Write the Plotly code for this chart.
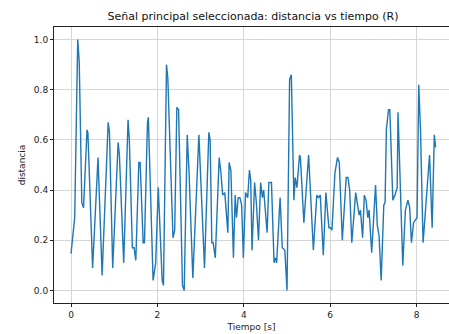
import plotly.graph_objects as go

tiempo = [0.00, 0.085, 0.155, 0.19, 0.25, 0.29, 0.37, 0.39, 0.50, 0.625, 0.72, 0.86, 0.89, 0.965,
          1.09, 1.12, 1.22, 1.32, 1.35, 1.42, 1.46, 1.50, 1.57, 1.60, 1.67, 1.70, 1.77, 1.79, 1.90,
          1.96, 2.02, 2.11, 2.14, 2.21, 2.24, 2.28, 2.36, 2.40, 2.45, 2.49, 2.58, 2.62, 2.69, 2.73,
          2.82, 2.96, 3.09, 3.19, 3.22, 3.26, 3.29, 3.34, 3.43, 3.47, 3.51, 3.56, 3.63, 3.66, 3.70,
          3.76, 3.80, 3.83, 3.87, 3.91, 3.95, 3.99, 4.04, 4.09, 4.13, 4.16, 4.19, 4.25, 4.29, 4.34,
          4.39, 4.43, 4.46, 4.54, 4.58, 4.64, 4.70, 4.73, 4.76, 4.84, 4.89, 4.95, 5.00, 5.06, 5.10,
          5.16, 5.19, 5.23, 5.29, 5.31, 5.39, 5.50, 5.61, 5.69, 5.73, 5.77, 5.84, 5.90, 5.97, 6.01,
          6.04, 6.11, 6.17, 6.21, 6.28, 6.37, 6.41, 6.45, 6.50, 6.59, 6.63, 6.67, 6.70, 6.75, 6.79,
          6.83, 6.87, 6.90, 6.96, 7.05, 7.09, 7.13, 7.18, 7.24, 7.27, 7.30, 7.35, 7.38, 7.45, 7.50,
          7.55, 7.57, 7.68, 7.74, 7.80, 7.84, 7.88, 7.93, 7.97, 8.01, 8.05, 8.09, 8.15, 8.26, 8.30,
          8.36, 8.41, 8.44]
distancia = [0.147, 0.29, 1.00, 0.91, 0.35, 0.33, 0.64, 0.63, 0.09, 0.53, 0.06, 0.67, 0.63, 0.09,
             0.59, 0.54, 0.11, 0.68, 0.60, 0.17, 0.17, 0.12, 0.51, 0.51, 0.19, 0.19, 0.67, 0.69, 0.04,
             0.11, 0.41, 0.04, 0.02, 0.90, 0.85, 0.65, 0.21, 0.24, 0.73, 0.72, 0.02, 0.00, 0.62, 0.48,
             0.05, 0.62, 0.09, 0.63, 0.60, 0.19, 0.19, 0.13, 0.53, 0.47, 0.38, 0.39, 0.23, 0.51, 0.48,
             0.13, 0.38, 0.29, 0.37, 0.37, 0.34, 0.13, 0.39, 0.37, 0.48, 0.44, 0.16, 0.43, 0.35, 0.20,
             0.43, 0.37, 0.40, 0.23, 0.43, 0.43, 0.11, 0.13, 0.11, 0.37, 0.17, 0.16, 0.00, 0.84, 0.86,
             0.36, 0.45, 0.41, 0.54, 0.53, 0.27, 0.54, 0.16, 0.38, 0.37, 0.38, 0.14, 0.39, 0.25, 0.25,
             0.24, 0.47, 0.53, 0.51, 0.20, 0.45, 0.45, 0.40, 0.19, 0.39, 0.34, 0.30, 0.32, 0.21, 0.38,
             0.36, 0.29, 0.32, 0.15, 0.42, 0.26, 0.22, 0.04, 0.34, 0.35, 0.64, 0.72, 0.72, 0.36, 0.38,
             0.41, 0.71, 0.10, 0.32, 0.36, 0.33, 0.19, 0.27, 0.28, 0.29, 0.82, 0.64, 0.19, 0.42, 0.54,
             0.25, 0.62, 0.57]

x_ticks = [0, 2, 4, 6, 8]
y_ticks = [0.0, 0.2, 0.4, 0.6, 0.8, 1.0]
y_tick_labels = ["0.0", "0.2", "0.4", "0.6", "0.8", "1.0"]

fig = go.Figure()
fig.add_trace(go.Scatter(x=tiempo, y=distancia, mode="lines",
                         line=dict(color="#1f77b4", width=1.4), showlegend=False))

font_family = "DejaVu Sans, sans-serif"
fig.update_layout(
    width=449, height=334,
    margin=dict(l=54, r=0, t=27, b=31),
    paper_bgcolor="white", plot_bgcolor="white",
    font=dict(family=font_family, size=9, color="#222"),
    title=dict(text="Señal principal seleccionada: distancia vs tiempo (R)",
               x=253 / 449, xanchor="center", xref="paper" if False else "container",
               y=1 - 16 / 334, yanchor="middle", yref="container",
               font=dict(size=11, color="#111", family=font_family)),
    xaxis=dict(range=[-0.394, 8.75], tickvals=x_ticks, showgrid=True, gridcolor="#d6d6d6",
               gridwidth=1, zeroline=False, showline=True, linecolor="#222", linewidth=1,
               mirror=True, ticks="outside", ticklen=3, tickcolor="#222",
               title=dict(text="Tiempo [s]", standoff=4, font=dict(size=9))),
    yaxis=dict(range=[-0.05, 1.05], tickvals=y_ticks, ticktext=y_tick_labels, showgrid=True,
               gridcolor="#d6d6d6", gridwidth=1, zeroline=False, showline=True,
               linecolor="#222", linewidth=1, mirror=False, ticks="outside", ticklen=3,
               tickcolor="#222",
               title=dict(text="distancia", standoff=6, font=dict(size=9))),
)

fig.write_html("out.html")
